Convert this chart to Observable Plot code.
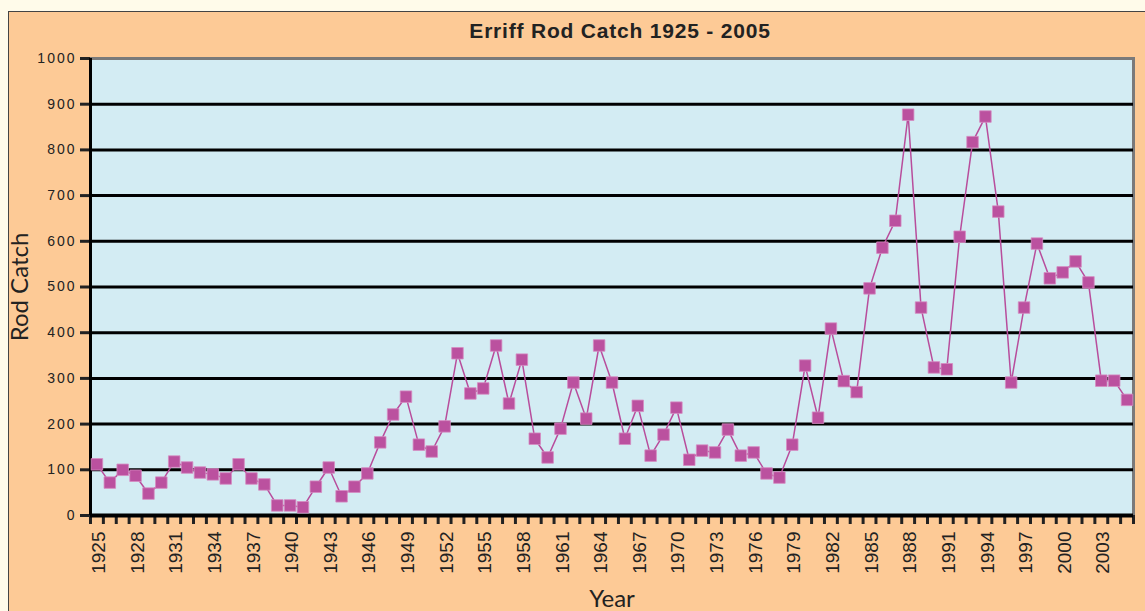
<!DOCTYPE html>
<html><head><meta charset="utf-8">
<script src="https://cdn.jsdelivr.net/npm/d3@7"></script>
<script src="https://cdn.jsdelivr.net/npm/@observablehq/plot@0.6"></script>
<style>
body{margin:0;background:#fffbea;overflow:hidden;}
#frame{position:absolute;left:8px;top:11px;width:1200px;height:700px;background:#fdca96;border:1px solid #444;}
#title{position:absolute;left:0;top:8px;width:1222px;text-align:center;font:bold 21px "Liberation Sans",Arial,sans-serif;letter-spacing:0.8px;line-height:22px;color:#222;}
#chart{position:absolute;left:0;top:33px;}
#chart svg{background:transparent;}
g[aria-label="y-axis tick label"] text{letter-spacing:2px;}
</style></head>
<body>
<div id="frame"><div id="title">Erriff Rod Catch 1925 - 2005</div><div id="chart"></div></div>
<script>
const years = d3.range(1925, 2006);
const catches = [112,72,100,87,48,72,118,105,94,90,81,112,81,68,22,22,18,63,105,42,63,92,160,221,260,155,140,195,355,267,278,372,245,341,168,127,190,291,212,372,291,168,240,131,177,236,122,142,138,188,131,138,92,83,155,328,214,409,294,270,497,586,645,877,455,324,320,610,817,873,665,291,455,595,519,532,556,510,295,295,253];
const labelYears = d3.range(1925, 2006, 3);
const yTicks = d3.range(0, 1001, 100);
const gridValues = d3.range(100, 1000, 100);
const tickBounds = d3.range(1924.5, 2006, 1);

const data = years.map((y, i) => ({year: y, value: catches[i]}));
const lineColor = "#b84d9c";

const chart = Plot.plot({
  width: 1136, height: 566,
  marginLeft: 81, marginRight: 12, marginTop: 13, marginBottom: 96,
  style: {fontFamily: "'Liberation Sans', Arial, sans-serif", color: "#222", overflow: "visible"},
  x: {domain: [1924.5, 2005.5]},
  y: {domain: [0, 1000]},
  marks: [
    Plot.frame({fill: "#d3ecf3", stroke: "#7a7a7a", strokeWidth: 3}),
    Plot.ruleY(gridValues, {stroke: "#000", strokeWidth: 3}),
    Plot.axisY({ticks: yTicks, tickSize: 10, strokeWidth: 3, tickPadding: 4, fontSize: 14, label: null, tickFormat: d => String(d)}),
    Plot.axisX({ticks: tickBounds, tickSize: 9, strokeWidth: 3, tickFormat: () => "", label: null}),
    Plot.axisX({ticks: labelYears, tickSize: 0, tickPadding: 16, tickRotate: -90, fontSize: 19, dx: 2, label: null, tickFormat: d => String(d)}),
    Plot.ruleX([1924.5], {stroke: "#000", strokeWidth: 3}),
    Plot.ruleY([0], {stroke: "#000", strokeWidth: 4}),
    Plot.line(data, {x: "year", y: "value", stroke: lineColor, strokeWidth: 1.5}),
    Plot.dot(data, {x: "year", y: "value", symbol: "square", r: 6.5, fill: "#bb519f", stroke: "#d58cc2", strokeWidth: 0.8}),
    Plot.text(["Rod Catch"], {frameAnchor: "left", dx: -70, rotate: -90, textAnchor: "middle", lineAnchor: "middle", fontSize: 24, fontFamily: "Lato, 'Open Sans', sans-serif", fill: "#222"}),
    Plot.text(["Year"], {frameAnchor: "bottom", dy: 84, textAnchor: "middle", lineAnchor: "middle", fontSize: 24, fontFamily: "Lato, 'Open Sans', sans-serif", fill: "#222"})
  ]
});
document.getElementById("chart").appendChild(chart);
</script>
</body></html>
